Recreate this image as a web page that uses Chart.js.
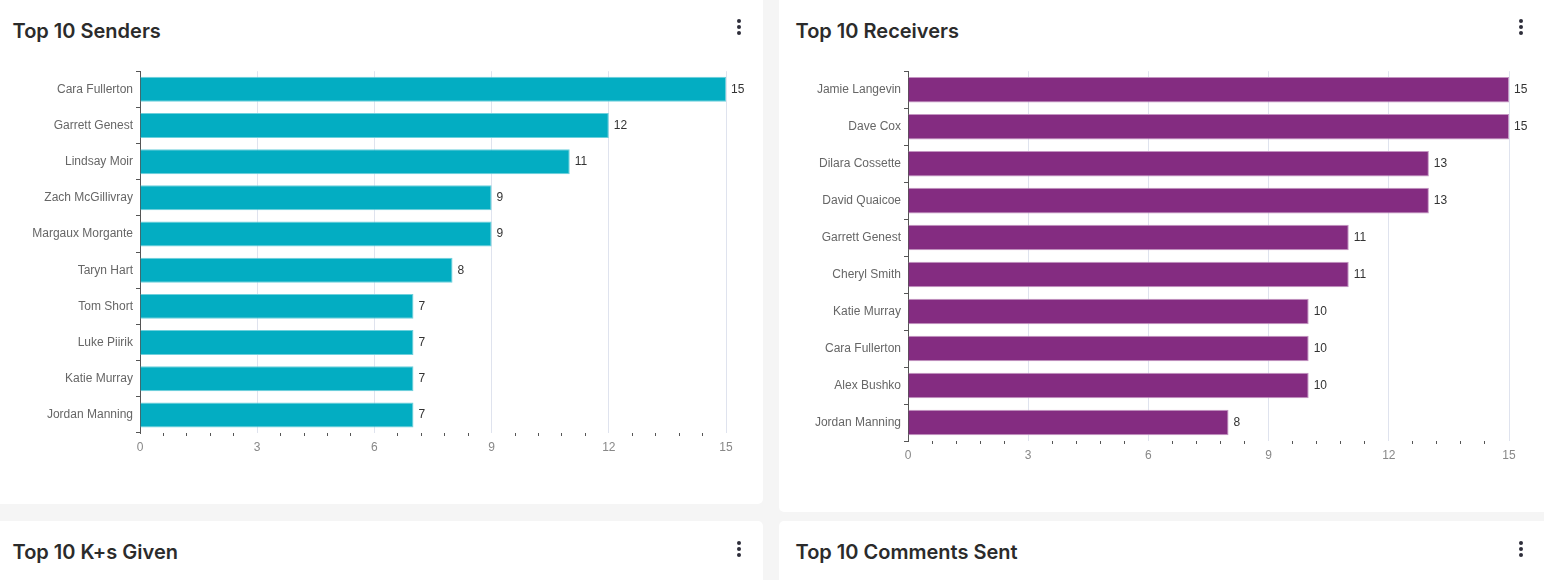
<!DOCTYPE html>
<html>
<head>
<meta charset="utf-8">
<script src="https://cdn.jsdelivr.net/npm/chart.js@4.4.1/dist/chart.umd.min.js"></script>
<style>
  html, body { margin: 0; padding: 0; }
  body { width: 1544px; height: 580px; overflow: hidden; background: #f5f5f5; position: relative; font-family: "Liberation Sans", Arial, sans-serif; }
  .card { position: absolute; background: #fff; border-radius: 5px; }
  .title { position: absolute; font-family: Inter, "Noto Sans", sans-serif; font-weight: 600; font-size: 20px; line-height: 24px; color: #2b2b2b; white-space: nowrap; }
  .kebab { position: absolute; width: 4px; }
  .kebab span { display: block; width: 4px; height: 4px; border-radius: 50%; background: #2e2e3a; margin-bottom: 2px; }
  canvas { position: absolute; }
</style>
</head>
<body>
<div class="card" style="left:-10px; top:-10px; width:773px; height:514px;"></div>
<div class="card" style="left:779px; top:-10px; width:800px; height:522px;"></div>
<div class="card" style="left:-10px; top:521px; width:773px; height:100px;"></div>
<div class="card" style="left:779px; top:521px; width:800px; height:100px;"></div>

<div class="title" style="left:12.5px; top:18.5px;">Top 10 Senders</div>
<div class="title" style="left:795.5px; top:18.5px;">Top 10 Receivers</div>
<div class="title" style="left:12.5px; top:540px;">Top 10 K+s Given</div>
<div class="title" style="left:795.5px; top:540px;">Top 10 Comments Sent</div>

<div class="kebab" style="left:737px; top:18.5px;"><span></span><span></span><span></span></div>
<div class="kebab" style="left:1519px; top:18.5px;"><span></span><span></span><span></span></div>
<div class="kebab" style="left:737px; top:540.5px;"><span></span><span></span><span></span></div>
<div class="kebab" style="left:1519px; top:540.5px;"><span></span><span></span><span></span></div>

<canvas id="senders" width="763" height="420" style="left:0px; top:61px; width:763px; height:420px;"></canvas>
<canvas id="receivers" width="765" height="428" style="left:779px; top:61px; width:765px; height:428px;"></canvas>

<script>
const senderNames = ["Cara Fullerton","Garrett Genest","Lindsay Moir","Zach McGillivray","Margaux Morgante","Taryn Hart","Tom Short","Luke Piirik","Katie Murray","Jordan Manning"];
const senderCounts = [15,12,11,9,9,8,7,7,7,7];

const receiverNames = ["Jamie Langevin","Dave Cox","Dilara Cossette","David Quaicoe","Garrett Genest","Cheryl Smith","Katie Murray","Cara Fullerton","Alex Bushko","Jordan Manning"];
const receiverCounts = [15,15,13,13,11,11,10,10,10,8];

const axisMin = 0;
const axisMax = 15;
const minorStep = 0.6;
const labelEvery = 3;

const valueLabels = {
  id: 'valueLabels',
  afterDatasetsDraw(chart) {
    const ctx = chart.ctx;
    ctx.save();
    ctx.font = '12px "Liberation Sans", Arial, sans-serif';
    ctx.fillStyle = '#333333';
    ctx.textAlign = 'left';
    ctx.textBaseline = 'middle';
    chart.data.datasets.forEach((ds, di) => {
      chart.getDatasetMeta(di).data.forEach((bar, i) => {
        ctx.fillText(String(ds.data[i]), bar.x + 5, bar.y);
      });
    });
    ctx.restore();
  }
};

function isMajor(v) {
  const r = v / labelEvery;
  return Math.abs(r - Math.round(r)) < 1e-6;
}

function makeChart(id, labels, values, color, border, yWidth, padRight) {
  return new Chart(document.getElementById(id), {
    type: 'bar',
    data: {
      labels: labels,
      datasets: [{
        data: values,
        backgroundColor: color,
        borderColor: border,
        borderWidth: 1,
        categoryPercentage: 1,
        barPercentage: 0.69
      }]
    },
    options: {
      indexAxis: 'y',
      responsive: false,
      animation: false,
      events: [],
      layout: { padding: { top: 10, right: padRight, bottom: 0, left: 0 } },
      plugins: { legend: { display: false }, tooltip: { enabled: false } },
      scales: {
        y: {
          afterFit(scale) { scale.width = yWidth; },
          grid: { drawOnChartArea: false, offset: true, color: '#555', tickLength: 4 },
          border: { display: true, color: '#555', width: 1 },
          ticks: { color: '#666', padding: 3, font: { size: 12, family: '"Liberation Sans", Arial, sans-serif' } }
        },
        x: {
          min: axisMin,
          max: axisMax,
          afterFit(scale) { scale.height = 48; },
          border: { display: false },
          grid: {
            color: (c) => (c.tick && isMajor(c.tick.value) && c.tick.value !== 0) ? '#dfe3ee' : 'rgba(0,0,0,0)',
            tickColor: (c) => (c.tick && isMajor(c.tick.value)) ? 'rgba(0,0,0,0)' : '#555',
            tickLength: 3
          },
          ticks: {
            stepSize: minorStep,
            autoSkip: false,
            maxRotation: 0,
            padding: 4,
            color: '#888',
            font: { size: 12, family: '"Liberation Sans", Arial, sans-serif' },
            callback: (v) => isMajor(v) ? String(Math.round(v)) : ''
          }
        }
      }
    },
    plugins: [valueLabels]
  });
}

makeChart('senders', senderNames, senderCounts, '#03adc2', '#6fd0dc', 140, 37);
makeChart('receivers', receiverNames, receiverCounts, '#842c81', '#c495c2', 129, 35);
</script>
</body>
</html>
